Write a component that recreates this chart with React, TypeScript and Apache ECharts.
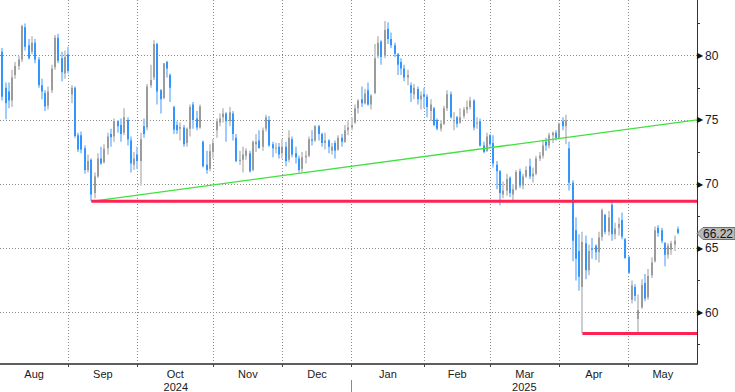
import React, { useEffect, useRef } from 'react';
import * as echarts from 'echarts';

// ---------- data ----------
const START_DATE = '2024-08-02';
const HOLIDAYS = ['2024-12-25', '2025-01-01', '2025-04-18'];
const MONTH_NAMES = ['Jan', 'Feb', 'Mar', 'Apr', 'May', 'Jun', 'Jul', 'Aug', 'Sep', 'Oct', 'Nov', 'Dec'];

// Aug 2024 .. May 2025 daily bars (open / high / low / close)
const opens = [
  // Aug
  80.3, 77.5, 77.2, 76.5, 78.5, 79.2, 79.7, 82.2, 80.8, 80.3, 81.0, 79.7, 77.7, 77.1, 76.1, 77.3, 79.1, 81.4, 79.8, 78.6, 80.1,
  // Sep
  77.0, 77.5, 73.8, 73.8, 72.8, 71.1, 71.9, 69.3, 70.6, 72.0, 71.7, 72.8, 73.9, 73.7, 74.9, 74.6, 74.0, 75.0, 73.4, 71.5, 72.3,
  // Oct
  71.8, 74.5, 74.4, 77.7, 78.3, 80.9, 77.3, 76.7, 79.5, 78.5, 76.0, 74.6, 74.3, 74.4, 73.2, 74.3, 76.2, 75.1, 74.4, 73.3, 71.5, 71.2, 72.5,
  // Nov
  74.2, 74.8, 75.2, 75.5, 74.9, 75.5, 73.6, 71.8, 71.9, 72.2, 72.4, 71.1, 73.1, 73.4, 72.9, 74.3, 75.0, 73.1, 72.8, 72.9, 72.4,
  // Dec
  72.9, 71.9, 73.5, 72.4, 72.0, 71.2, 72.1, 72.2, 73.5, 73.4, 74.5, 73.9, 73.2, 73.4, 72.6, 73.2, 72.7, 73.6, 73.3, 74.2, 74.4,
  // Jan
  74.8, 75.9, 76.6, 76.3, 77.3, 76.2, 77.1, 80.0, 81.1, 80.0, 82.1, 81.3, 80.8, 80.1, 79.5, 79.0, 78.3, 77.7, 77.0, 77.4, 76.6, 77.0,
  // Feb
  76.8, 75.7, 75.9, 75.0, 74.3, 74.7, 75.9, 77.0, 74.9, 75.2, 74.8, 75.3, 75.8, 76.0, 76.5, 74.8, 74.9, 73.0, 72.6, 73.8,
  // Mar
  73.2, 71.5, 71.0, 69.2, 69.5, 70.5, 69.2, 69.6, 71.0, 69.9, 70.6, 71.4, 70.6, 70.8, 72.0, 72.2, 73.3, 73.0, 73.8, 74.0, 73.6,
  // Apr
  74.9, 74.5, 72.8, 70.1, 66.4, 64.8, 62.0, 65.4, 63.3, 65.0, 65.2, 64.7, 65.9, 67.6, 66.3, 68.4, 66.1, 66.6, 67.2, 65.7, 64.3,
  // May
  61.0, 62.0, 59.5, 60.4, 62.3, 61.2, 62.9, 64.0, 66.6, 66.4, 65.4, 64.5, 64.9, 65.3, 66.5,
];
const highs = [
  80.6, 77.9, 77.9, 78.9, 79.5, 80.0, 82.4, 82.5, 81.3, 81.5, 81.3, 79.9, 78.2, 77.3, 77.6, 79.3, 81.6, 81.7, 80.3, 80.4, 80.7,
  77.7, 77.6, 74.0, 74.1, 73.0, 72.3, 72.0, 70.9, 72.4, 72.9, 73.1, 74.0, 74.3, 75.1, 75.0, 75.1, 75.9, 75.2, 73.7, 72.5, 72.9,
  74.0, 75.1, 77.8, 79.3, 81.2, 81.0, 77.4, 79.4, 79.6, 78.6, 76.1, 74.9, 74.8, 74.6, 74.4, 76.2, 76.4, 75.7, 76.2, 73.4, 72.6, 73.1, 73.5,
  75.1, 75.5, 75.9, 75.6, 76.0, 75.7, 73.9, 72.6, 72.9, 72.8, 72.6, 73.4, 73.9, 74.2, 74.4, 75.4, 75.3, 73.3, 73.2, 73.2, 73.5,
  73.3, 74.2, 73.7, 72.9, 72.2, 72.5, 72.6, 73.7, 74.2, 74.6, 74.6, 74.0, 74.0, 73.5, 73.2, 73.4, 73.8, 73.9, 74.6, 74.9, 75.2,
  76.2, 76.6, 77.6, 77.4, 77.9, 77.0, 80.9, 81.5, 81.2, 82.7, 82.6, 81.8, 81.0, 80.2, 79.8, 79.3, 78.9, 77.9, 77.8, 77.6, 77.2, 77.5,
  77.0, 76.6, 76.0, 75.1, 75.0, 76.1, 77.3, 77.2, 75.6, 75.3, 75.9, 76.0, 76.5, 76.8, 76.6, 75.2, 75.1, 73.3, 74.0, 73.9,
  73.8, 71.8, 71.1, 70.2, 70.8, 70.6, 70.0, 71.1, 71.2, 70.8, 71.4, 72.0, 71.3, 72.2, 72.5, 73.4, 73.6, 74.0, 74.1, 74.2, 74.8,
  75.2, 75.4, 73.3, 70.3, 67.4, 66.1, 66.3, 66.0, 65.3, 65.8, 65.3, 66.3, 68.1, 67.7, 67.9, 68.6, 67.0, 67.4, 67.8, 65.8, 64.4,
  62.5, 62.2, 61.4, 62.6, 63.0, 63.4, 64.3, 66.7, 66.8, 66.6, 65.5, 65.4, 65.6, 66.0, 66.7,
];
const lows = [
  76.5, 75.05, 75.9, 76.0, 78.2, 78.9, 79.5, 80.4, 79.7, 80.1, 79.4, 77.5, 76.6, 75.7, 75.8, 77.1, 78.9, 79.4, 78.0, 78.2, 78.6,
  76.3, 73.6, 72.5, 72.4, 70.8, 70.9, 68.68, 68.9, 70.5, 71.5, 71.6, 72.3, 72.9, 73.3, 74.0, 73.3, 73.8, 73.0, 70.9, 71.1, 71.2,
  69.9, 73.6, 74.2, 77.5, 78.1, 76.2, 75.5, 76.6, 78.3, 76.4, 73.9, 73.9, 73.4, 72.9, 72.9, 73.7, 74.3, 74.2, 74.3, 71.3, 70.8, 71.0, 72.0,
  73.6, 74.5, 74.8, 73.3, 74.5, 73.4, 71.7, 71.5, 70.9, 71.9, 70.9, 71.0, 72.5, 72.8, 72.6, 74.1, 72.9, 72.1, 72.4, 72.0, 72.0,
  71.4, 71.7, 72.1, 71.6, 70.9, 70.95, 71.6, 72.1, 73.0, 73.3, 73.4, 72.9, 72.7, 72.4, 72.3, 72.0, 72.6, 72.9, 73.2, 73.8, 74.2,
  74.7, 75.5, 76.0, 76.2, 76.1, 75.8, 77.0, 79.8, 79.3, 79.8, 80.9, 80.6, 79.9, 78.5, 78.5, 78.0, 77.7, 76.4, 76.6, 76.2, 75.8, 75.9,
  75.2, 74.9, 74.5, 74.2, 74.1, 74.6, 75.7, 75.1, 74.2, 74.4, 74.7, 75.1, 75.5, 75.8, 74.2, 74.3, 72.9, 72.4, 72.5, 72.9,
  71.3, 69.6, 68.35, 68.9, 69.1, 69.0, 68.7, 69.5, 69.7, 69.6, 70.5, 70.4, 70.1, 70.7, 71.8, 72.0, 72.6, 72.8, 73.2, 73.4, 73.5,
  74.2, 73.1, 69.5, 64.0, 62.5, 61.7, 58.4, 62.6, 62.9, 64.2, 64.1, 63.9, 65.6, 66.1, 66.0, 65.6, 65.7, 66.0, 65.7, 64.2, 63.0,
  60.7, 60.9, 58.4, 60.3, 60.9, 61.0, 62.7, 63.9, 65.9, 65.4, 63.6, 64.2, 64.5, 64.8, 66.1,
];
const closes = [
  76.8, 76.3, 76.5, 78.3, 79.2, 79.7, 82.3, 80.7, 79.8, 81.0, 79.7, 77.7, 77.2, 76.05, 77.2, 79.0, 81.4, 79.6, 78.7, 79.9, 78.8,
  77.5, 73.75, 72.7, 72.7, 71.1, 71.8, 69.2, 70.6, 72.0, 71.6, 72.75, 73.7, 73.65, 74.9, 74.5, 73.9, 75.2, 73.5, 71.6, 72.0, 71.8,
  73.5, 73.9, 77.6, 78.1, 80.9, 77.2, 76.6, 79.4, 79.0, 77.5, 74.25, 74.2, 74.45, 73.1, 74.3, 76.0, 75.0, 74.4, 76.05, 71.4, 71.1, 72.55, 73.2,
  74.9, 75.1, 75.5, 74.9, 75.6, 73.9, 71.8, 71.9, 72.3, 72.6, 71.0, 73.3, 73.3, 72.8, 74.2, 75.2, 73.0, 72.8, 72.85, 72.3, 72.9,
  71.8, 73.6, 72.3, 72.1, 71.1, 72.1, 72.2, 73.5, 73.4, 74.5, 73.9, 73.2, 73.4, 72.9, 72.9, 72.6, 73.6, 73.3, 74.2, 74.4, 74.6,
  75.9, 76.5, 76.3, 77.05, 76.2, 76.9, 79.8, 81.0, 79.9, 82.0, 81.3, 80.8, 80.15, 79.3, 79.0, 78.3, 78.5, 77.1, 77.5, 76.6, 76.9, 76.8,
  76.0, 76.2, 74.6, 74.3, 74.7, 75.9, 77.0, 75.2, 75.0, 74.7, 75.2, 75.8, 76.0, 76.5, 74.4, 74.8, 73.0, 72.5, 73.7, 73.1,
  71.6, 71.0, 69.3, 69.5, 70.4, 69.3, 69.6, 70.95, 69.9, 70.6, 71.1, 70.6, 70.8, 72.0, 72.2, 73.0, 73.0, 73.8, 74.0, 73.6, 74.7,
  74.5, 74.95, 70.1, 65.6, 64.2, 62.8, 65.5, 63.3, 64.8, 64.9, 64.7, 65.85, 67.96, 66.3, 67.4, 66.1, 66.55, 66.9, 65.9, 64.25, 63.1,
  62.1, 61.3, 60.2, 62.15, 61.1, 62.85, 63.9, 66.4, 66.2, 65.6, 64.5, 65.2, 65.4, 65.6, 66.22,
];

const LAST_PRICE = 66.22;
const SUPPORT_UPPER = 68.66;
const SUPPORT_UPPER_FROM = '2024-09-10';
const SUPPORT_LOWER = 58.38;
const SUPPORT_LOWER_FROM = '2025-04-09';
const TREND_FROM_VALUE = 68.66;
const TREND_TO_VALUE = 75.0;
const Y_MAJOR = [60, 65, 70, 75, 80];
const Y_MINOR = [57.5, 62.5, 67.5, 72.5, 77.5, 82.5];

// ---------- helpers ----------
function fmt(d: Date) {
  const m = d.getUTCMonth() + 1;
  const day = d.getUTCDate();
  return `${d.getUTCFullYear()}-${m < 10 ? '0' : ''}${m}-${day < 10 ? '0' : ''}${day}`;
}
function tradingDays(start: string, n: number, holidays: string[]) {
  const out: string[] = [];
  const d = new Date(start + 'T00:00:00Z');
  while (out.length < n) {
    const wd = d.getUTCDay();
    const s = fmt(d);
    if (wd !== 0 && wd !== 6 && holidays.indexOf(s) < 0) out.push(s);
    d.setUTCDate(d.getUTCDate() + 1);
  }
  return out;
}

const dates = tradingDays(START_DATE, closes.length, HOLIDAYS);

// layout of the x scale (index units)
const X_MIN = -0.7;
const X_MAX = 210.77;
const Y_MIN = 56.0;
const Y_MAX = 84.33;

const monthEnds: number[] = [];
const yearEnds: number[] = [];
for (let i = 0; i < dates.length - 1; i++) {
  if (dates[i].slice(5, 7) !== dates[i + 1].slice(5, 7)) monthEnds.push(i);
  if (dates[i].slice(0, 4) !== dates[i + 1].slice(0, 4)) yearEnds.push(i);
}
const monthBounds = [X_MIN, ...monthEnds, X_MAX];
const monthMids: number[] = [];
const monthLabels: string[] = [];
for (let k = 0; k < monthBounds.length - 1; k++) {
  monthMids.push((monthBounds[k] + monthBounds[k + 1]) / 2);
  const idx = k === 0 ? 0 : monthEnds[k - 1] + 1;
  monthLabels.push(MONTH_NAMES[parseInt(dates[idx].slice(5, 7), 10) - 1]);
}
const yearBounds = [X_MIN, ...yearEnds, X_MAX];
const yearMids: number[] = [];
const yearLabels: string[] = [];
for (let k = 0; k < yearBounds.length - 1; k++) {
  yearMids.push((yearBounds[k] + yearBounds[k + 1]) / 2);
  const idx = k === 0 ? 0 : yearEnds[k - 1] + 1;
  yearLabels.push(dates[idx].slice(0, 4));
}
function lookup(pos: number[], labels: string[], v: number) {
  for (let k = 0; k < pos.length; k++) if (Math.abs(pos[k] - v) < 0.05) return labels[k];
  return '';
}

const FONT = 'Liberation Sans, Arial, sans-serif';
const BLUE = '#3396ff';
const BLUE_LIGHT = '#9fcbff';
const GRAY = '#9b9b9b';
const GRAY_LIGHT = '#cdcdcd';
const GRID_LINE = { color: '#8c8c8c', type: [1, 2] as any, width: 1 };

export default function App() {
  const ref = useRef<HTMLDivElement>(null);
  useEffect(() => {
    if (!ref.current) return;
    const chart = echarts.init(ref.current, undefined, { renderer: 'svg' });
    const candles = closes.map((c, i) => [i, opens[i], highs[i], lows[i], c]);
    const iUpper = dates.indexOf(SUPPORT_UPPER_FROM);
    const iLower = dates.indexOf(SUPPORT_LOWER_FROM);

    chart.setOption({
      animation: false,
      backgroundColor: '#ffffff',
      grid: { left: 0, right: 38, top: 0, bottom: 28, containLabel: false, outerBoundsMode: 'none' },
      xAxis: [
        {
          type: 'value',
          min: X_MIN,
          max: X_MAX,
          position: 'bottom',
          axisLine: { show: true, onZero: false, lineStyle: { color: '#5e5e5e', width: 2 } },
          axisTick: { show: true, customValues: monthEnds, length: 3, lineStyle: { color: '#444', width: 1 } },
          axisLabel: {
            customValues: monthMids,
            formatter: (v: number) => lookup(monthMids, monthLabels, v),
            fontSize: 11,
            fontFamily: FONT,
            color: '#1a1a1a',
            margin: 3,
            lineHeight: 14,
          },
          splitLine: { show: true, lineStyle: GRID_LINE },
        },
        {
          type: 'value',
          min: X_MIN,
          max: X_MAX,
          position: 'bottom',
          offset: 16,
          axisLine: { show: false, onZero: false },
          axisTick: { show: true, customValues: yearEnds, length: 12, lineStyle: { color: '#8a8a8a', width: 1 } },
          axisLabel: {
            customValues: yearMids,
            formatter: (v: number) => lookup(yearMids, yearLabels, v),
            fontSize: 11,
            fontFamily: FONT,
            color: '#1a1a1a',
            margin: 1,
            lineHeight: 11,
          },
          splitLine: { show: false },
        },
      ],
      yAxis: [
        {
          type: 'value',
          position: 'right',
          min: Y_MIN,
          max: Y_MAX,
          axisLine: { show: true, onZero: false, lineStyle: { color: '#333', width: 1 } },
          axisTick: { show: false, customValues: Y_MAJOR },
          axisLabel: {
            customValues: Y_MAJOR,
            margin: 0,
            formatter: (v: number) => `{tri|\u25B6}{num|${v}}`,
            rich: {
              tri: { fontSize: 8, fontFamily: 'DejaVu Sans', color: '#111', width: 8, align: 'left' },
              num: { fontSize: 12, fontFamily: FONT, color: '#1a1a1a' },
            },
          },
          splitLine: { show: true, lineStyle: GRID_LINE },
        },
        {
          type: 'value',
          position: 'right',
          min: Y_MIN,
          max: Y_MAX,
          axisLine: { show: false, onZero: false },
          axisTick: { show: true, customValues: Y_MINOR, length: 3, lineStyle: { color: '#333', width: 1 } },
          axisLabel: { show: false },
          splitLine: { show: false },
        },
      ],
      series: [
        {
          type: 'custom',
          xAxisIndex: 0,
          yAxisIndex: 0,
          clip: true,
          encode: { x: 0, y: [1, 2, 3, 4] },
          data: candles,
          renderItem: (params: any, api: any) => {
            const i = api.value(0);
            const o = api.value(1);
            const h = api.value(2);
            const l = api.value(3);
            const c = api.value(4);
            const pH = api.coord([i, h]);
            const pL = api.coord([i, l]);
            const pO = api.coord([i, o]);
            const pC = api.coord([i, c]);
            const up = c >= o;
            const x = Math.round(pH[0] - 1);
            const top = Math.min(pO[1], pC[1]);
            const bh = Math.max(1, Math.abs(pO[1] - pC[1]));
            return {
              type: 'group',
              children: [
                {
                  type: 'rect',
                  shape: { x, y: pH[1], width: 2, height: Math.max(1, pL[1] - pH[1]) },
                  style: { fill: up ? GRAY_LIGHT : BLUE_LIGHT },
                },
                {
                  type: 'rect',
                  shape: { x, y: top, width: 2, height: bh },
                  style: { fill: up ? GRAY : BLUE },
                },
              ],
            };
          },
          z: 2,
        },
        {
          type: 'line',
          xAxisIndex: 0,
          yAxisIndex: 0,
          data: [[iUpper, TREND_FROM_VALUE], [X_MAX, TREND_TO_VALUE]],
          symbol: 'none',
          lineStyle: { color: '#3fe23f', width: 1.3 },
          silent: true,
          z: 4,
        },
        {
          type: 'line',
          xAxisIndex: 0,
          yAxisIndex: 0,
          data: [[iUpper, SUPPORT_UPPER], [X_MAX, SUPPORT_UPPER]],
          symbol: 'none',
          lineStyle: { color: '#ff2353', width: 3 },
          silent: true,
          z: 5,
        },
        {
          type: 'line',
          xAxisIndex: 0,
          yAxisIndex: 0,
          data: [[iLower, SUPPORT_LOWER], [X_MAX, SUPPORT_LOWER]],
          symbol: 'none',
          lineStyle: { color: '#ff2353', width: 3 },
          silent: true,
          z: 5,
        },
        {
          // last price tag
          type: 'custom',
          xAxisIndex: 0,
          yAxisIndex: 0,
          clip: false,
          silent: true,
          data: [[X_MAX, LAST_PRICE]],
          encode: { x: 0, y: 1 },
          renderItem: (params: any, api: any) => {
            const p = api.coord([api.value(0), api.value(1)]);
            const x0 = Math.round(p[0]);
            const y0 = Math.round(p[1]) + 0.5;
            return {
              type: 'group',
              children: [
                {
                  type: 'polygon',
                  shape: {
                    points: [
                      [x0, y0],
                      [x0 + 6, y0 - 6],
                      [x0 + 38, y0 - 6],
                      [x0 + 38, y0 + 6],
                      [x0 + 6, y0 + 6],
                    ],
                  },
                  style: { fill: '#b9b9b9', stroke: '#6e6e6e', lineWidth: 1 },
                },
                {
                  type: 'text',
                  style: {
                    x: x0 + 21,
                    y: y0,
                    text: LAST_PRICE.toFixed(2),
                    fill: '#111',
                    font: `12px ${FONT}`,
                    align: 'center',
                    verticalAlign: 'middle',
                  },
                },
              ],
            };
          },
          z: 7,
        },
      ],
    });

    return () => chart.dispose();
  }, []);
  return (
    <div
      ref={ref}
      style={{ position: 'absolute', left: 0, top: 0, width: 735, height: 392, background: '#fff' }}
    />
  );
}
